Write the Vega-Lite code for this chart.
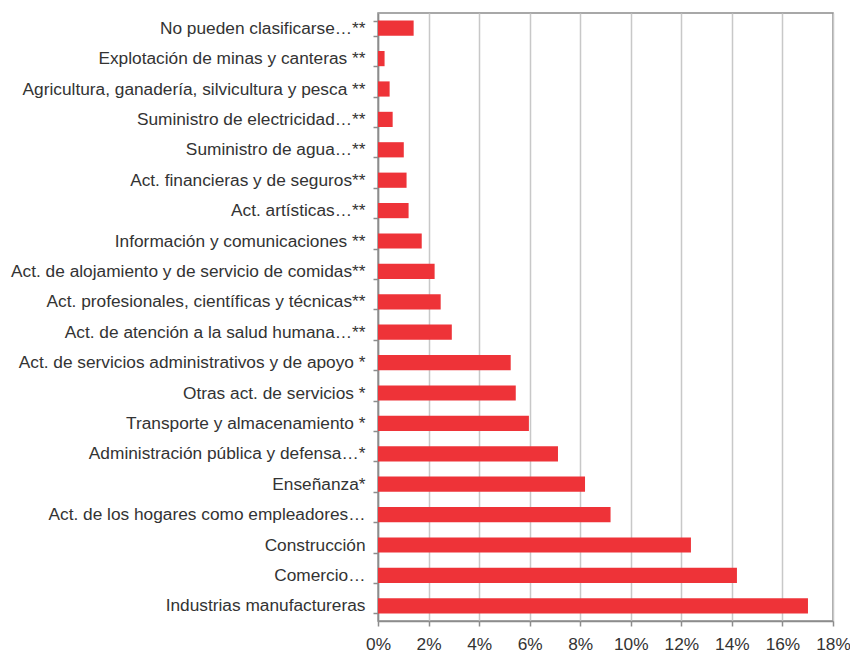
{
  "$schema": "https://vega.github.io/schema/vega-lite/v6.json",
  "autosize": "none",
  "width": 455,
  "height": 608,
  "padding": {"left": 378, "top": 13, "right": 17, "bottom": 34},
  "background": "white",
  "config": {
    "view": {"stroke": "#8c8c8c", "strokeWidth": 1.5},
    "font": "Liberation Sans"
  },
  "data": {
    "values": [
      {"sector": "No pueden clasificarse…**", "pct": 1.41},
      {"sector": "Explotación de minas y canteras **", "pct": 0.26},
      {"sector": "Agricultura, ganadería, silvicultura y pesca **", "pct": 0.46},
      {"sector": "Suministro de electricidad…**", "pct": 0.58},
      {"sector": "Suministro de agua…**", "pct": 1.02},
      {"sector": "Act. financieras y de seguros**", "pct": 1.13},
      {"sector": "Act. artísticas…**", "pct": 1.21},
      {"sector": "Información y comunicaciones **", "pct": 1.73},
      {"sector": "Act. de alojamiento y de servicio de comidas**", "pct": 2.24},
      {"sector": "Act. profesionales, científicas y técnicas**", "pct": 2.48},
      {"sector": "Act. de atención a la salud humana…**", "pct": 2.92},
      {"sector": "Act. de servicios administrativos y de apoyo *", "pct": 5.25},
      {"sector": "Otras act. de servicios *", "pct": 5.45},
      {"sector": "Transporte y almacenamiento *", "pct": 5.97},
      {"sector": "Administración pública y defensa…*", "pct": 7.12},
      {"sector": "Enseñanza*", "pct": 8.19},
      {"sector": "Act. de los hogares como empleadores…", "pct": 9.2},
      {"sector": "Construcción", "pct": 12.38},
      {"sector": "Comercio…", "pct": 14.2},
      {"sector": "Industrias manufactureras", "pct": 17.01}
    ]
  },
  "mark": {"type": "bar", "color": "#EE3338"},
  "encoding": {
    "y": {
      "field": "sector",
      "type": "nominal",
      "sort": null,
      "scale": {"paddingInner": 0.5, "paddingOuter": 0.25},
      "axis": {
        "title": null,
        "tickBand": "extent",
        "tickSize": 5,
        "tickColor": "#8c8c8c",
        "tickWidth": 1.5,
        "domainColor": "#8c8c8c",
        "domainWidth": 1.5,
        "labelFontSize": 17.3,
        "labelColor": "#333333",
        "labelPadding": 8,
        "labelLimit": 400,
        "grid": false
      }
    },
    "x": {
      "field": "pct",
      "type": "quantitative",
      "scale": {"domain": [0, 18], "nice": false},
      "axis": {
        "title": null,
        "values": [0, 2, 4, 6, 8, 10, 12, 14, 16, 18],
        "labelExpr": "datum.value + '%'",
        "grid": true,
        "gridColor": "#c8c8c8",
        "gridWidth": 1.5,
        "tickSize": 5,
        "tickColor": "#8c8c8c",
        "tickWidth": 1.5,
        "domainColor": "#8c8c8c",
        "domainWidth": 1.5,
        "labelFontSize": 17.3,
        "labelColor": "#333333",
        "labelPadding": 9,
        "labelFlush": false
      }
    }
  }
}
